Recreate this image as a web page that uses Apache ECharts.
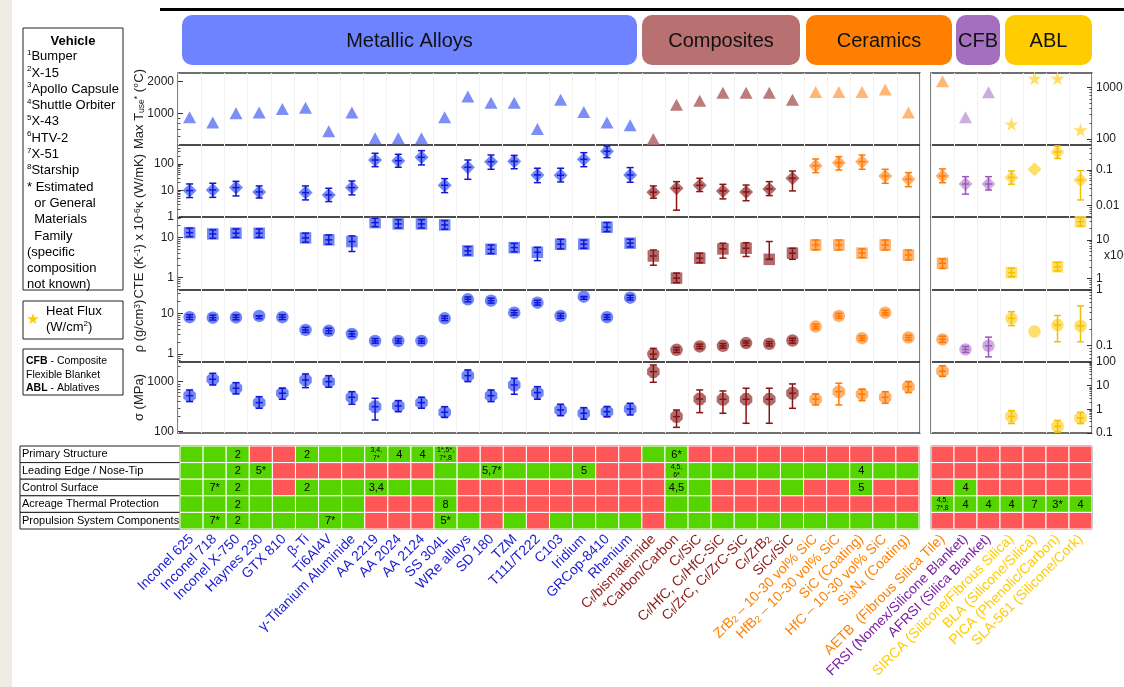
<!DOCTYPE html>
<html>
<head>
<meta charset="utf-8">
<title>Materials for hypersonic vehicles</title>
<script src="https://cdn.jsdelivr.net/npm/echarts@6.0.0/dist/echarts.min.js"></script>
<style>
html, body { margin: 0; padding: 0; background: #ffffff; }
#chart { width: 1124px; height: 687px; }
</style>
</head>
<body>
<div id="chart"></div>
<script>
// ---------------- categories ----------------
const leftCategories = ['Inconel 625', 'Inconel 718', 'Inconel X-750', 'Haynes 230', 'GTX 810', 'β-Ti', 'Ti6Al4V',
  'γ-Titanium Aluminide', 'AA 2219', 'AA 2024', 'AA 2124', 'SS 304L', 'WRe alloys', 'SD 180', 'TZM', 'T111/T222',
  'C103', 'Iridium', 'GRCop-8410', 'Rhenium',
  'C_f/bismaleimide', '*Carbon/Carbon', 'C_f/SiC', 'C_f/HfC, C_f/HfC-SiC', 'C_f/ZrC, C_f/ZrC-SiC', 'C_f/ZrB_2', 'SiC_f/SiC',
  'ZrB_2 – 10-30 vol% SiC', 'HfB_2 – 10-30 vol% SiC', 'SiC (Coating)', 'HfC – 10-30 vol% SiC', 'Si_3N_4 (Coating)'];
const leftGroups = ['metal', 'metal', 'metal', 'metal', 'metal', 'metal', 'metal', 'metal', 'metal', 'metal',
  'metal', 'metal', 'metal', 'metal', 'metal', 'metal', 'metal', 'metal', 'metal', 'metal',
  'comp', 'comp', 'comp', 'comp', 'comp', 'comp', 'comp',
  'cer', 'cer', 'cer', 'cer', 'cer'];
const rightCategories = ['AETB  (Fibrous Silica Tile)', 'FRSI (Nomex/Silicone Blanket)', 'AFRSI (Silica Blanket)',
  'SIRCA (Silicone/Fibrous Silica)', 'BLA (Silicone/Silica)', 'PICA (Phenolic/Carbon)', 'SLA-561 (Silicone/Cork)'];
const rightGroups = ['cer', 'cfb', 'cfb', 'abl', 'abl', 'abl', 'abl'];

// ---------------- property values: value or [value, low, high] ----------------
const tuseLeft = [920, 820, 1000, 1020, 1100, 1130, 675, 1020, 580, 580, 580, 920, 1450, 1260, 1260, 710,
  1350, 1030, 820, 770, 570, 1210, 1320, 1570, 1570, 1570, 1350, 1600, 1600, 1600, 1690, 1020];
const tuseRight = [1310, 264, 800, null, null, null, null];
const heatFluxRight = [null, null, null, 195, 1490, 1490, 150];

const kLeft = [[9.9, 5.4, 17.6], [10.5, 5.5, 18.7], [12.8, 6.2, 22], [8.8, 5.2, 14.8], null, [8.3, 4.4, 14.8],
  [6.8, 3.8, 12.1], [12.8, 6.8, 22.8], [141, 79, 253], [133, 75, 232], [179, 92, 318], [15.7, 8.3, 27.9],
  [75, 26.4, 141], [122, 63, 218], [126, 66, 210], [38.5, 19.7, 69], [37.5, 21, 69], [150, 79, 267],
  [301, 173, 478], [38.5, 20.4, 73], [8.6, 5.1, 14.8], [12.1, 1.8, 21.5], [15.7, 9.1, 28.8], [9.6, 4.8, 17],
  [8.8, 4.1, 16], [11.4, 6.4, 21.5], [28.8, 9.6, 54], [86, 47, 154], [112, 59, 189], [122, 63, 218],
  [35.2, 18.7, 63], [26.4, 13.9, 47]];
const kRight = [[0.068, 0.044, 0.107], [0.0405, 0.021, 0.065], [0.0405, 0.0275, 0.065], [0.062, 0.04, 0.094],
  [0.105], [0.32, 0.21, 0.47], [0.0525, 0.0145, 0.096]];

const cteLeft = [[13.0, 10.3, 16.8], [12.1, 9.4, 15.2], [12.6, 9.9, 16.1], [12.6, 9.9, 16.1], null, [9.6, 7.5, 12.6],
  [8.6, 6.7, 11.4], [7.8, 4.4, 10.8], [23.2, 18.4, 29.9], [21.5, 17, 27.5], [21.5, 17, 27.5], [20.3, 15.8, 26],
  [4.55, 3.6, 5.8], [5.0, 3.9, 6.4], [5.5, 4.3, 7.0], [4.2, 2.6, 5.6], [6.7, 5.1, 8.9], [6.7, 5.3, 8.5],
  [17.8, 13.8, 23.3], [7.1, 5.7, 8.9], [3.4, 2.0, 4.8], [0.95, 0.73, 1.27], [3.0, 2.3, 4.0], [5.1, 3.0, 7.1],
  [5.3, 3.3, 7.3], [2.8, 2.8, 7.8], [4.0, 2.8, 5.3], [6.4, 4.8, 8.5], [6.4, 4.8, 8.5], [4.0, 3.1, 5.1],
  [6.4, 4.8, 8.5], [3.6, 2.7, 4.8]];
const cteRight = [[2.47, 1.8, 3.2], null, null, [1.41, 1.1, 1.82], null, [2.0, 1.55, 2.6], [30, 23, 38]];

const rhoLeft = [[8.0, 7.0, 9.2], [7.8, 6.8, 9.0], [7.9, 6.9, 9.1], [8.6, 7.4, 8.7], [8.0, 7.0, 9.2], [3.9, 3.4, 4.5],
  [3.7, 3.2, 4.3], [3.1, 2.7, 3.6], [2.1, 1.85, 2.4], [2.1, 1.85, 2.4], [2.1, 1.85, 2.4], [7.5, 6.6, 8.6],
  [21.9, 19, 25], [20.3, 17.7, 23.3], [10.3, 9.0, 11.8], [18.1, 15.8, 20.8], [8.6, 7.5, 9.9], [25.4, 22, 25.6],
  [8.0, 7.0, 9.2], [24, 21, 27.5], [1.0, 0.75, 1.38], [1.27, 1.1, 1.45], [1.54, 1.35, 1.75], [1.59, 1.4, 1.8],
  [1.86, 1.62, 2.1], [1.79, 1.58, 2.02], [2.15, 1.85, 2.45], [4.7, 4.1, 5.4], [8.6, 7.5, 9.9], [2.45, 2.15, 2.8],
  [10.3, 9.0, 11.8], [2.55, 2.2, 2.9]];
const rhoRight = [[0.13, 0.115, 0.148], [0.086, 0.076, 0.097], [0.10, 0.063, 0.143], [0.31, 0.23, 0.41], [0.18],
  [0.235, 0.118, 0.35], [0.226, 0.118, 0.52]];

const sigmaLeft = [[525, 398, 682], [1117, 859, 1470], [738, 568, 955], [380, 293, 501], [586, 444, 738],
  [1080, 759, 1426], [1000, 772, 1318], [487, 353, 631], [316, 171, 465], [326, 251, 416], [380, 293, 487],
  [244, 194, 316], [1318, 1000, 1715], [525, 398, 682], [859, 560, 1170], [603, 444, 794], [271, 209, 353],
  [233, 177, 302], [251, 200, 316], [284, 216, 369], [1585, 972, 2155], [200, 122, 271], [450, 240, 682],
  [444, 233, 651], [444, 147, 738], [444, 147, 738], [586, 293, 900], [444, 342, 568], [631, 342, 930],
  [560, 416, 703], [487, 369, 631], [794, 603, 1000]];
const sigmaRight = [[41, 25, 70], null, null, [0.5, 0.25, 0.88], null, [0.19, 0.11, 0.34], [0.43, 0.25, 0.75]];

// ---------------- axis tick labels ----------------
const tuseTicks = { left: [1000, 2000], right: [100, 1000] };
const kTicks = { left: [1, 10, 100], right: [0.01, 0.1] };
const cteTicks = { left: [1, 10], right: [1, 10] };
const rhoTicks = { left: [1, 10], right: [0.1, 1] };
const sigmaTicks = { left: [100, 1000], right: [0.1, 1, 10, 100] };

// ---------------- application matrix (G = used, R = not used) ----------------
const usageRows = ['Primary Structure', 'Leading Edge / Nose-Tip', 'Control Surface',
  'Acreage Thermal Protection', 'Propulsion System Components'];
const usageLeft = [
  'GGGRRGGGGGGGRRRRRRRRGGRRRRRRRRRR',
  'GGGGRRRRRRRGGGGGGGRRRGGGGGGGGGGG',
  'GGGGRGGGGGGGRRRRRRRRRGGRRRGRRGRR',
  'GGGGGGGGRRRGRRRRRRRRRGGRRRRRRRRR',
  'GGGGGGGGRRRGGRGRGGGGRGGGGGGGGGGG'
];
const usageRight = ['RRRRRRR', 'RRRRRRR', 'RGRRRRR', 'GGGGGGG', 'RRRRRRR'];
// [column, row, vehicle note]
const notesLeft = [[2, 0, '2'], [5, 0, '2'], [8, 0, '3,4,\n7*'], [9, 0, '4'], [10, 0, '4'], [11, 0, '1*,5*,\n7*,8'],
  [21, 0, '6*'], [2, 1, '2'], [3, 1, '5*'], [13, 1, '5,7*'], [17, 1, '5'], [21, 1, '4,5,\n6*'], [29, 1, '4'],
  [1, 2, '7*'], [2, 2, '2'], [5, 2, '2'], [8, 2, '3,4'], [21, 2, '4,5'], [29, 2, '5'],
  [2, 3, '2'], [11, 3, '8'], [1, 4, '7*'], [2, 4, '2'], [6, 4, '7*'], [11, 4, '5*']];
const notesRight = [[1, 2, '4'], [0, 3, '4,5,\n7*,8'], [1, 3, '4'], [2, 3, '4'], [3, 3, '4'], [4, 3, '7'],
  [5, 3, '3*'], [6, 3, '4']];

// ---------------- header bands and legend text ----------------
const headerBands = [
  { label: 'Metallic Alloys', x0: 182, x1: 637, color: '#6e83ff' },
  { label: 'Composites', x0: 642, x1: 800, color: '#b87070' },
  { label: 'Ceramics', x0: 806, x1: 952, color: '#ff8000' },
  { label: 'CFB', x0: 956, x1: 1000, color: '#a56fc0' },
  { label: 'ABL', x0: 1005, x1: 1092, color: '#ffcc00' }
];
const vehicleLines = ['{sup|1}Bumper', '{sup|2}X-15', '{sup|3}Apollo Capsule', '{sup|4}Shuttle Orbiter',
  '{sup|5}X-43', '{sup|6}HTV-2', '{sup|7}X-51', '{sup|8}Starship', '* Estimated', '  or General', '  Materials',
  '  Family', '(specific', 'composition', 'not known)'];

// ---------------- styling ----------------
const FONT = '"Liberation Sans", Arial, Helvetica, sans-serif';
const groupColors = {
  metal: { marker: '#5d76f4', tri: '#6b80f6', bar: '#1414d4', text: '#1b1bd2' },
  comp:  { marker: '#a55858', tri: '#b26a6a', bar: '#8a1212', text: '#8b1a1a' },
  cer:   { marker: '#ffa65a', tri: '#ffad66', bar: '#ff7800', text: '#ff8000' },
  cfb:   { marker: '#c8a0da', tri: '#c6a0da', bar: '#9a58b8', text: '#7d1fa3' },
  abl:   { marker: '#ffdb55', tri: '#ffdc5c', bar: '#f2c000', text: '#ffcc00' }
};
const OCTAGON = 'path://M29,0 L71,0 L100,29 L100,71 L71,100 L29,100 L0,71 L0,29 Z';
const STAR = 'path://M50,0 L61,35 L98,35 L68,57 L79,91 L50,70 L21,91 L32,57 L2,35 L39,35 Z';
const GREEN = '#55d400', RED = '#ff5757';

const rowTops = [73, 145, 217, 290, 362];
const panelBottom = 433;
const leftPanel = { x: 178, w: 742 };
const rightPanel = { x: 931, w: 161 };
const matrixTop = 446, matrixHeight = 83;
const leftMatrix = { x: 180, w: 739 };
const rightMatrix = { x: 931, w: 161 };

const panelRows = [
  { name: 'Max T{sub|use}{sup|*} (°C)', symbol: 'triangle', size: [13, 12], colorKey: 'tri',
    left: { data: tuseLeft, min: 500, max: 2420, ticks: tuseTicks.left },
    right: { data: tuseRight, min: 76.6, max: 1892, ticks: tuseTicks.right } },
  { name: 'κ (W/mK)', symbol: 'diamond', size: [14, 14], colorKey: 'marker',
    left: { data: kLeft, min: 0.995, max: 520, ticks: kTicks.left },
    right: { data: kRight, min: 0.00482, max: 0.501, ticks: kTicks.right } },
  { name: 'CTE (K{sup|-1}) x 10{sup|-6}', symbol: 'rect', size: [11.5, 11.5], colorKey: 'marker',
    left: { data: cteLeft, min: 0.48, max: 32, ticks: cteTicks.left },
    right: { data: cteRight, min: 0.495, max: 39.8, ticks: cteTicks.right } },
  { name: 'ρ (g/cm{sup|3})', symbol: 'circle', size: 12.5, colorKey: 'marker',
    left: { data: rhoLeft, min: 0.64, max: 37, ticks: rhoTicks.left },
    right: { data: rhoRight, min: 0.051, max: 1.005, ticks: rhoTicks.right } },
  { name: 'σ (MPa)', symbol: OCTAGON, size: 12.5, colorKey: 'marker',
    left: { data: sigmaLeft, min: 94, max: 2470, ticks: sigmaTicks.left },
    right: { data: sigmaRight, min: 0.0995, max: 100.5, ticks: sigmaTicks.right } }
];

// minor log ticks (2..9 of each decade) inside an axis range
function logMinorTicks(min, max, majors) {
  const out = [];
  for (let e = Math.floor(Math.log10(min)); e <= Math.ceil(Math.log10(max)); e++) {
    for (let m = 2; m <= 9; m++) {
      const v = +(m * Math.pow(10, e)).toPrecision(6);
      if (v > min && v < max && majors.indexOf(v) < 0) out.push(v);
    }
  }
  return out;
}
const valueOf = d => (Array.isArray(d) ? d[0] : d);

const grid = [], xAxis = [], yAxis = [], series = [];

panelRows.forEach((row, r) => {
  const top = rowTops[r];
  const height = (r < rowTops.length - 1 ? rowTops[r + 1] : panelBottom) - top;
  ['left', 'right'].forEach(side => {
    const panel = side === 'left' ? leftPanel : rightPanel;
    const cats = side === 'left' ? leftCategories : rightCategories;
    const groups = side === 'left' ? leftGroups : rightGroups;
    const cfg = row[side];
    const gi = grid.length;
    grid.push({ left: panel.x, top: top, width: panel.w, height: height, show: true,
      borderColor: '#404040', borderWidth: 1.3, backgroundColor: 'transparent',
      containLabel: false, outerBoundsMode: 'none' });
    xAxis.push({ type: 'category', gridIndex: gi, data: cats, boundaryGap: true,
      axisLine: { show: false }, axisTick: { show: false, interval: 0 }, axisLabel: { show: false, interval: 0 },
      splitLine: { show: true, interval: 0, lineStyle: { color: '#f3f3f3', width: 1 } } });
    const pos = side === 'left' ? 'left' : 'right';
    const yi = yAxis.length;
    yAxis.push({ type: 'log', logBase: 10, gridIndex: gi, position: pos, min: cfg.min, max: cfg.max,
      name: side === 'left' ? row.name : '', nameLocation: 'middle', nameRotate: 90, nameGap: 32,
      nameMoveOverlap: false,
      nameTextStyle: { fontFamily: FONT, fontSize: 13, color: '#222',
        rich: { sub: { fontFamily: FONT, fontSize: 8.5, color: '#222', lineHeight: 9, verticalAlign: 'bottom' },
                sup: { fontFamily: FONT, fontSize: 8.5, color: '#222', lineHeight: 9, verticalAlign: 'top' } } },
      axisLine: { show: false }, splitLine: { show: false },
      axisTick: { show: true, inside: true, length: 5, customValues: cfg.ticks, lineStyle: { color: '#333', width: 1 } },
      axisLabel: { show: true, customValues: cfg.ticks, formatter: v => String(+Number(v).toPrecision(6)),
        fontFamily: FONT, fontSize: 12, color: '#222', margin: 4 } });
    yAxis.push({ type: 'log', logBase: 10, gridIndex: gi, position: pos, min: cfg.min, max: cfg.max,
      axisLine: { show: false }, splitLine: { show: false }, axisLabel: { show: false },
      axisTick: { show: true, inside: true, length: 2.5, customValues: logMinorTicks(cfg.min, cfg.max, cfg.ticks),
        lineStyle: { color: '#555', width: 1 } } });

    // markers
    series.push({ type: 'scatter', xAxisIndex: gi, yAxisIndex: yi, symbol: row.symbol, symbolSize: row.size,
      z: 3, silent: true,
      data: cfg.data.map((d, i) => (d == null ? null : { value: [i, valueOf(d)],
        itemStyle: { color: groupColors[groups[i]][row.colorKey], opacity: 0.88 } })).filter(Boolean) });

    // heat flux stars share the first row of the right panel
    if (r === 0 && side === 'right') {
      series.push({ type: 'scatter', xAxisIndex: gi, yAxisIndex: yi, symbol: STAR, symbolSize: 14, z: 3, silent: true,
        data: heatFluxRight.map((v, i) => (v == null ? null : { value: [i, v],
          itemStyle: { color: groupColors[groups[i]].marker, opacity: 0.9 } })).filter(Boolean) });
    }

    // whiskers: low-high line with caps and a tick at the value
    const bars = [], barColors = [];
    cfg.data.forEach((d, i) => {
      if (Array.isArray(d) && d.length === 3) { bars.push([i, d[0], d[1], d[2]]); barColors.push(groupColors[groups[i]].bar); }
    });
    if (bars.length) {
      series.push({ type: 'custom', xAxisIndex: gi, yAxisIndex: yi, z: 4, silent: true, data: bars,
        encode: { x: 0, y: 1 },
        renderItem: (params, api) => {
          const c = api.coord([api.value(0), api.value(1)]);
          const lo = api.coord([api.value(0), api.value(2)])[1];
          const hi = api.coord([api.value(0), api.value(3)])[1];
          const x = c[0], w = 3.5;
          const style = { stroke: barColors[params.dataIndex], lineWidth: 1.5 };
          return { type: 'group', children: [
            { type: 'line', shape: { x1: x, y1: lo, x2: x, y2: hi }, style: style },
            { type: 'line', shape: { x1: x - w, y1: lo, x2: x + w, y2: lo }, style: style },
            { type: 'line', shape: { x1: x - w, y1: hi, x2: x + w, y2: hi }, style: style },
            { type: 'line', shape: { x1: x - w, y1: c[1], x2: x + w, y2: c[1] }, style: style }
          ] };
        } });
    }
  });
});

// ---------------- application matrix ----------------
const labelRich = {
  compS: { fontFamily: FONT, fontSize: 9.5, color: groupColors.comp.text, lineHeight: 9, verticalAlign: 'bottom' },
  cerS: { fontFamily: FONT, fontSize: 9.5, color: groupColors.cer.text, lineHeight: 9, verticalAlign: 'bottom' },
  metalS: { fontFamily: FONT, fontSize: 9.5, color: groupColors.metal.text, lineHeight: 9, verticalAlign: 'bottom' }
};
[[leftMatrix, leftCategories, leftGroups, usageLeft, notesLeft], [rightMatrix, rightCategories, rightGroups, usageRight, notesRight]]
  .forEach(([box, cats, groups, usage, notes]) => {
    const gi = grid.length;
    grid.push({ left: box.x, top: matrixTop, width: box.w, height: matrixHeight, show: true,
      borderColor: '#222', borderWidth: 1, backgroundColor: 'transparent', containLabel: false, outerBoundsMode: 'none' });
    xAxis.push({ type: 'category', gridIndex: gi, data: cats, axisLine: { show: false }, axisTick: { show: false },
      splitLine: { show: false },
      axisLabel: { interval: 0, rotate: 45, margin: 8, fontFamily: FONT, fontSize: 14, hideOverlap: false,
        color: (v, i) => groupColors[groups[i]].text,
        formatter: (v, i) => String(v).replace(/_(\w)/g, '{' + groups[i] + 'S|$1}'),
        rich: labelRich } });
    const yi = yAxis.length;
    yAxis.push({ type: 'category', gridIndex: gi, data: usageRows, inverse: true, axisLine: { show: false },
      axisTick: { show: false }, axisLabel: { show: false }, splitLine: { show: false } });
    const noteMap = {};
    notes.forEach(n => { noteMap[n[0] + ',' + n[1]] = n[2]; });
    const cells = [];
    usage.forEach((rowStr, r) => rowStr.split('').forEach((s, c) => cells.push([c, r, s === 'G' ? 1 : 0])));
    series.push({ type: 'custom', xAxisIndex: gi, yAxisIndex: yi, silent: true, data: cells, encode: { x: 0, y: 1 },
      renderItem: (params, api) => {
        const col = api.value(0), row = api.value(1);
        const c = api.coord([col, row]);
        const s = api.size([1, 1]);
        const children = [{ type: 'rect', shape: { x: c[0] - s[0] / 2, y: c[1] - s[1] / 2, width: s[0], height: s[1] },
          style: { fill: api.value(2) ? GREEN : RED, stroke: '#ffffff', lineWidth: 1 } }];
        const note = noteMap[col + ',' + row];
        if (note) {
          const multi = note.indexOf('\n') >= 0;
          children.push({ type: 'text', x: c[0], y: c[1] + (multi ? 0 : 0.5), style: { text: note, fill: '#000',
            fontFamily: FONT, fontSize: multi ? 7 : 11, lineHeight: multi ? 8 : 12, align: 'center', verticalAlign: 'middle' } });
        }
        return { type: 'group', children: children };
      } });
  });

// ---------------- decorations ----------------
const graphic = [];
graphic.push({ type: 'rect', shape: { x: 0, y: 0, width: 12, height: 687 }, style: { fill: '#efebe5' }, silent: true });
graphic.push({ type: 'rect', shape: { x: 160, y: 8, width: 964, height: 3 }, style: { fill: '#000' }, silent: true });
headerBands.forEach(b => {
  graphic.push({ type: 'rect', shape: { x: b.x0, y: 15, width: b.x1 - b.x0, height: 50, r: 10 },
    style: { fill: b.color }, silent: true });
  graphic.push({ type: 'text', x: (b.x0 + b.x1) / 2, y: 41, silent: true,
    style: { text: b.label, fill: '#111', fontFamily: FONT, fontSize: 20, align: 'center', verticalAlign: 'middle' } });
});
// vehicle key
graphic.push({ type: 'rect', shape: { x: 23, y: 28, width: 100, height: 262 }, style: { fill: '#fff', stroke: '#222', lineWidth: 1 }, silent: true });
graphic.push({ type: 'text', x: 73, y: 41, silent: true, style: { text: 'Vehicle', fill: '#000', fontFamily: FONT,
  fontSize: 13, fontWeight: 'bold', align: 'center', verticalAlign: 'middle' } });
graphic.push({ type: 'text', x: 27, y: 48.5, silent: true, style: { text: vehicleLines.join('\n'), fill: '#000',
  fontFamily: FONT, fontSize: 13, lineHeight: 16.3, align: 'left', verticalAlign: 'top',
  rich: { sup: { fontFamily: FONT, fontSize: 8, fill: '#000', lineHeight: 9, verticalAlign: 'top' } } } });
// heat flux key
graphic.push({ type: 'rect', shape: { x: 23, y: 301, width: 100, height: 38 }, style: { fill: '#fff', stroke: '#222', lineWidth: 1 }, silent: true });
graphic.push({ type: 'text', x: 33, y: 320, silent: true, style: { text: '★', fill: '#ffcc00', fontFamily: '"DejaVu Sans"',
  fontSize: 15, align: 'center', verticalAlign: 'middle' } });
graphic.push({ type: 'text', x: 46, y: 303, silent: true, style: { text: 'Heat Flux\n(W/cm{sup|2})', fill: '#000',
  fontFamily: FONT, fontSize: 13, lineHeight: 16.5, align: 'left', verticalAlign: 'top',
  rich: { sup: { fontFamily: FONT, fontSize: 8, fill: '#000', lineHeight: 9, verticalAlign: 'top' } } } });
// abbreviation key
graphic.push({ type: 'rect', shape: { x: 23, y: 349, width: 100, height: 46 }, style: { fill: '#fff', stroke: '#222', lineWidth: 1 }, silent: true });
graphic.push({ type: 'text', x: 26, y: 354.5, silent: true, style: {
  text: '{b|CFB} - Composite\nFlexible Blanket\n{b|ABL} - Ablatives', fill: '#000',
  fontFamily: FONT, fontSize: 10.5, lineHeight: 13.5, align: 'left', verticalAlign: 'top',
  rich: { b: { fontFamily: FONT, fontSize: 10.5, fontWeight: 'bold', fill: '#000', lineHeight: 13.5 } } } });
// matrix row labels
const rowH = matrixHeight / usageRows.length;
usageRows.forEach((name, r) => {
  graphic.push({ type: 'rect', shape: { x: 20, y: matrixTop + r * rowH, width: leftMatrix.x - 20, height: rowH },
    style: { fill: '#fff', stroke: '#222', lineWidth: 1 }, silent: true });
  graphic.push({ type: 'text', x: 22, y: matrixTop + (r + 0.5) * rowH, silent: true,
    style: { text: name, fill: '#000', fontFamily: FONT, fontSize: 11, align: 'left', verticalAlign: 'middle' } });
});
// unit multiplier of the right CTE axis
graphic.push({ type: 'text', x: 1104, y: 256, silent: true, style: { text: 'x10{sup|-6}', fill: '#222', fontFamily: FONT,
  fontSize: 12, align: 'left', verticalAlign: 'middle',
  rich: { sup: { fontFamily: FONT, fontSize: 8, fill: '#222', lineHeight: 8, verticalAlign: 'top' } } } });

const chart = echarts.init(document.getElementById('chart'), null, { renderer: 'canvas', width: 1124, height: 687 });
chart.setOption({
  animation: false,
  backgroundColor: '#ffffff',
  textStyle: { fontFamily: FONT },
  grid: grid,
  xAxis: xAxis,
  yAxis: yAxis,
  series: series,
  graphic: graphic
});
</script>
</body>
</html>
